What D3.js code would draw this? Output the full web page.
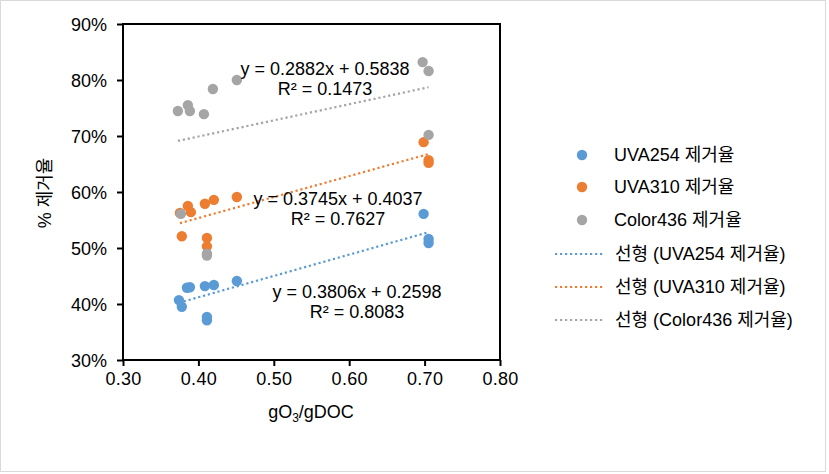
<!DOCTYPE html>
<html><head><meta charset="utf-8">
<script src="https://cdn.jsdelivr.net/npm/d3@7"></script>
<style>
html,body{margin:0;padding:0;background:#fff;}
text{font-family:"Liberation Sans",Arial,"Noto Sans CJK KR",sans-serif;fill:#000;}
</style></head>
<body><svg id="c" width="829" height="474"></svg>
<script>
// ---- data ----
const seriesNames = ["UVA254 제거율", "UVA310 제거율", "Color436 제거율"];
const uva254X = [0.3742, 0.378, 0.3848, 0.3887, 0.4086, 0.4205, 0.451, 0.4113, 0.4113, 0.6987, 0.7053, 0.7053];
const uva254Y = [0.407, 0.395, 0.429, 0.430, 0.432, 0.434, 0.441, 0.377, 0.371, 0.561, 0.516, 0.509];
const uva310X = [0.3755, 0.386, 0.390, 0.4086, 0.4205, 0.451, 0.378, 0.4113, 0.4113, 0.6987, 0.7053, 0.7053];
const uva310Y = [0.5625, 0.575, 0.564, 0.579, 0.586, 0.591, 0.521, 0.518, 0.503, 0.689, 0.657, 0.652];
const color436X = [0.3728, 0.386, 0.3887, 0.4073, 0.4192, 0.451, 0.6974, 0.7053, 0.7053, 0.3768, 0.4113, 0.4113];
const color436Y = [0.7446, 0.755, 0.7446, 0.739, 0.784, 0.800, 0.832, 0.816, 0.702, 0.561, 0.490, 0.4865];
const slopes = [0.3806, 0.3745, 0.2882];
const intercepts = [0.2598, 0.4037, 0.5838];
const r2 = ["0.8083", "0.7627", "0.1473"];
const xTicks = [0.3, 0.4, 0.5, 0.6, 0.7, 0.8];
const yTicks = [0.3, 0.4, 0.5, 0.6, 0.7, 0.8, 0.9];
const colors = ["#5B9BD5", "#ED7D31", "#A5A5A5"];

// ---- chart ----
const svg = d3.select("#c");
svg.append("rect").attr("x",0.5).attr("y",0.5).attr("width",825).attr("height",471)
  .attr("fill","#fff").attr("stroke","#d9d9d9").attr("stroke-width",1);

const x = d3.scaleLinear().domain([0.3,0.8]).range([123,500]);
const y = d3.scaleLinear().domain([0.3,0.9]).range([360,24]);

const xAxis = d3.axisBottom(x).tickValues(xTicks).tickFormat(d3.format(".2f")).tickSize(6).tickSizeOuter(0);
const yAxis = d3.axisLeft(y).tickValues(yTicks).tickFormat(d3.format(".0%")).tickSize(6).tickSizeOuter(0);

const gx = svg.append("g").attr("transform","translate(0,360)").call(xAxis);
const gy = svg.append("g").attr("transform","translate(123,0)").call(yAxis);
[gx,gy].forEach(g=>{
  g.select(".domain").remove();
  g.selectAll(".tick line").attr("stroke","#000").attr("stroke-width",2);
  g.selectAll(".tick text").attr("font-size","18px").attr("fill","#000");
});
gx.selectAll(".tick text").attr("dy","0.9em").attr("letter-spacing","0.3px");
gy.selectAll(".tick text").attr("x",-16).attr("dy","0.35em");

// plot frame
svg.append("rect").attr("x",x(0.3)).attr("y",y(0.9)).attr("width",x(0.8)-x(0.3)).attr("height",y(0.3)-y(0.9))
  .attr("fill","none").attr("stroke","#000").attr("stroke-width",2);

// points
const series = [
  {xs: uva254X, ys: uva254Y},
  {xs: uva310X, ys: uva310Y},
  {xs: color436X, ys: color436Y}
];
series.forEach((s,i)=>{
  svg.append("g").selectAll("circle").data(s.xs.map((v,j)=>[v,s.ys[j]])).join("circle")
    .attr("cx",d=>x(d[0])).attr("cy",d=>y(d[1])).attr("r",5.2).attr("fill",colors[i]);
});
// trendlines
series.forEach((s,i)=>{
  const [x0,x1] = d3.extent(s.xs);
  svg.append("line").attr("x1",x(x0)).attr("x2",x(x1))
    .attr("y1",y(slopes[i]*x0+intercepts[i])).attr("y2",y(slopes[i]*x1+intercepts[i]))
    .attr("stroke",colors[i]).attr("stroke-width",2.2).attr("stroke-dasharray","2.2,2.8");
});

// equation labels
const labelPos = [[357,298],[338,205],[325,75]];
labelPos.forEach((p,i)=>{
  const t = svg.append("text").attr("text-anchor","middle").attr("font-size","18px");
  t.append("tspan").attr("x",p[0]).attr("y",p[1]).text(`y = ${slopes[i].toFixed(4)}x + ${intercepts[i].toFixed(4)}`);
  t.append("tspan").attr("x",p[0]).attr("y",p[1]+20).text(`R² = ${r2[i]}`);
});

// axis titles
const xt = svg.append("text").attr("x",311).attr("y",418).attr("text-anchor","middle").attr("font-size","18px");
xt.append("tspan").text("gO");
xt.append("tspan").attr("font-size","12px").attr("dy",4).text("3");
xt.append("tspan").attr("dy",-4).text("/gDOC");
svg.append("text").attr("transform","translate(51,193) rotate(-90)").attr("text-anchor","middle")
  .attr("font-size","18px").text("% 제거율");

// legend
const lg = svg.append("g");
const rowY = [155,187,220,254,287,320];
seriesNames.forEach((n,i)=>{
  lg.append("circle").attr("cx",582).attr("cy",rowY[i]).attr("r",5.2).attr("fill",colors[i]);
  lg.append("text").attr("x",614).attr("y",rowY[i]).attr("dy","0.35em").attr("font-size","18px").text(n);
});
seriesNames.forEach((n,i)=>{
  const yy = rowY[i+3];
  lg.append("line").attr("x1",555).attr("x2",603).attr("y1",yy).attr("y2",yy)
    .attr("stroke",colors[i]).attr("stroke-width",2.2).attr("stroke-dasharray","2.2,2.8");
  lg.append("text").attr("x",615).attr("y",yy).attr("dy","0.35em").attr("font-size","18px").text(`선형 (${n})`);
});
</script></body></html>
